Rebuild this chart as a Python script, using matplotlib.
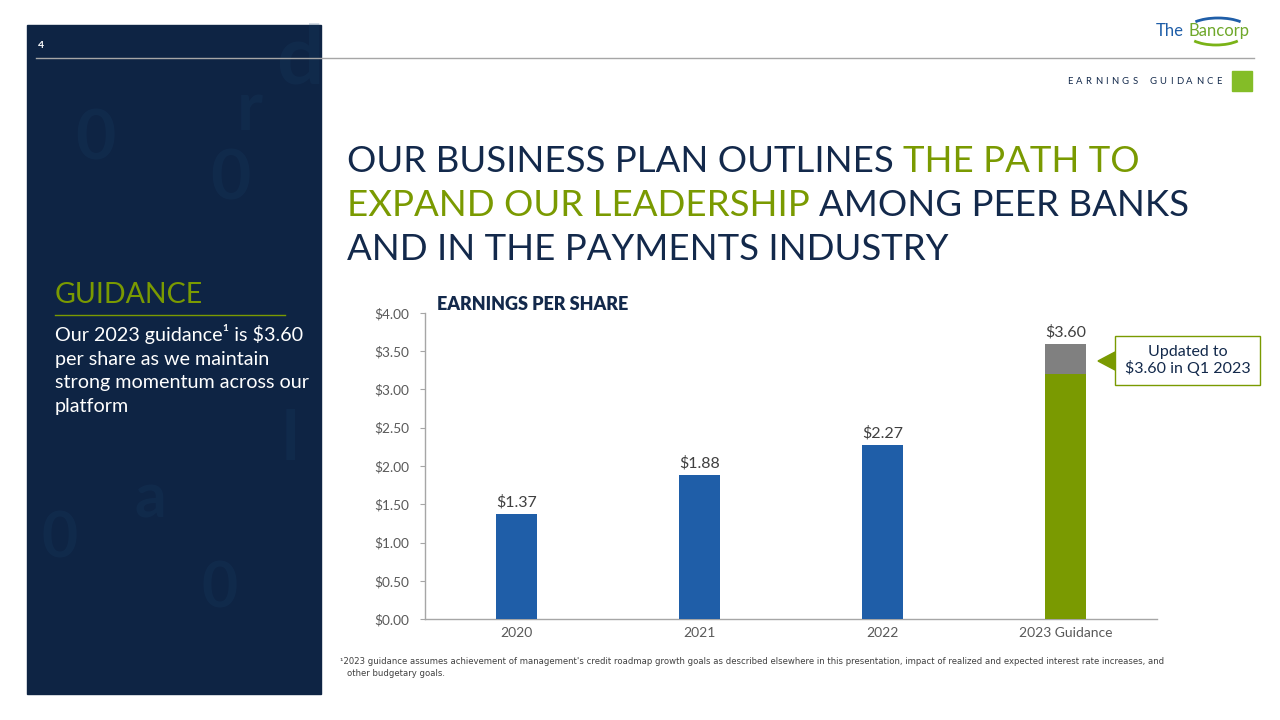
import numpy as np
import matplotlib.pyplot as plt
from matplotlib.patches import Rectangle, Polygon, Arc

# ---- data ----
categories = ["2020", "2021", "2022", "2023 Guidance"]
eps = [1.37, 1.88, 2.27, 3.60]
value_labels = ["$1.37", "$1.88", "$2.27", "$3.60"]
prior_guidance = 3.20          # green part of the 2023 bar
yticks = [0.0, 0.5, 1.0, 1.5, 2.0, 2.5, 3.0, 3.5, 4.0]

NAVY = "#13294b"
GREEN = "#7a9a01"
BLUE = "#1f5ea8"
GREY_BAR = "#808080"
TXT = "#595959"

plt.rcParams["font.family"] = ["Lato", "DejaVu Sans"]

W, H = 1280, 720
fig = plt.figure(figsize=(12.8, 7.2), dpi=100)
fig.patch.set_facecolor("white")
renderer = fig.canvas.get_renderer()

# background layer in pixel coords
bg = fig.add_axes([0, 0, 1, 1])
bg.set_xlim(0, W)
bg.set_ylim(H, 0)
bg.axis("off")

# left dark panel with faint blurry characters
panel = Rectangle((27, 25), 294, 669, color="#0e2444", zorder=0)
bg.add_patch(panel)
for (cx, cy, ch, s) in [(300, 60, "d", 60), (250, 110, "r", 50), (230, 180, "0", 50),
                         (95, 140, "0", 50), (60, 540, "0", 45), (150, 500, "a", 45),
                         (290, 440, "l", 50), (220, 590, "0", 45)]:
    tt = bg.text(cx, cy, ch, fontsize=s, color="#1d4770", alpha=0.18, ha="center",
                 va="center", fontweight="bold", zorder=1)
    tt.set_clip_path(panel)

# header line + page number
bg.plot([36, 1254], [58, 58], color="#a6a6a6", lw=1, zorder=2)
bg.text(38, 45, "4", color="white", fontsize=7.5, fontweight="bold", va="center")

# logo
bg.text(1156, 31, "The", color="#1f5ea8", fontsize=12, va="center")
bg.text(1188, 31, "Bancorp", color="#6fa82a", fontsize=12, va="center")
bg.add_patch(Arc((1218, 30), 62, 24, theta1=200, theta2=340, color="#1f5ea8", lw=2))
bg.add_patch(Arc((1216, 33), 58, 24, theta1=20, theta2=160, color="#7ab317", lw=2))


def spaced_text(x_right, y, s, total, **kw):
    # draw letter by letter with even tracking so the word ends at x_right
    widths = []
    for ch in s:
        t = bg.text(0, 0, ch if ch != " " else "n", **kw)
        widths.append(t.get_window_extent(renderer=renderer).width)
        t.remove()
    track = (total - sum(widths)) / (len(s) - 1)
    x = x_right - total
    for ch, w in zip(s, widths):
        if ch != " ":
            bg.text(x, y, ch, ha="left", va="center", **kw)
        x += w + track


spaced_text(1222, 81, "EARNINGS GUIDANCE", 155, color=NAVY, fontsize=6.8)
bg.add_patch(Rectangle((1232, 71), 20, 20, color="#84bd27"))

# title with coloured segments
title_lines = [
    [("OUR BUSINESS PLAN OUTLINES ", NAVY), ("THE PATH TO", GREEN)],
    [("EXPAND OUR LEADERSHIP ", GREEN), ("AMONG PEER BANKS", NAVY)],
    [("AND IN THE PAYMENTS INDUSTRY", NAVY)],
]
for i, segs in enumerate(title_lines):
    x = 347
    y = 172 + i * 44
    for txt, col in segs:
        tt = bg.text(x, y, txt, color=col, fontsize=26.4, fontweight="normal",
                     va="baseline", ha="left")
        bb = tt.get_window_extent(renderer=renderer)
        x += bb.width

# left panel text
bg.text(55, 303, "GUIDANCE", color=GREEN, fontsize=20.5, va="baseline")
bg.plot([55, 285], [315, 315], color=GREEN, lw=1)
body = ["Our 2023 guidance\u00b9 is $3.60", "per share as we maintain",
        "strong momentum across our", "platform"]
for i, line in enumerate(body):
    bg.text(55, 341 + i * 23.7, line, color="white", fontsize=14.2, va="baseline")

# footnote
fn_font = ["Liberation Sans Narrow", "DejaVu Sans"]
bg.text(340, 661, "\u00b92023 guidance assumes achievement of management's credit roadmap growth goals as described elsewhere in this presentation, impact of realized and expected interest rate increases, and",
        color="#404040", fontsize=6.1, va="center", family=fn_font)
bg.text(347, 673, "other budgetary goals.", color="#404040", fontsize=6.1, va="center",
        family=fn_font)

# ---- chart ----
x0, x1, ytop, ybot = 425, 1157, 313, 619
ax = fig.add_axes([x0 / W, 1 - ybot / H, (x1 - x0) / W, (ybot - ytop) / H])
ax.set_facecolor("none")
xpos = np.arange(len(categories))
bw = 0.22
colors = [BLUE, BLUE, BLUE, GREEN]
heights = eps[:3] + [prior_guidance]
ax.bar(xpos, heights, width=bw, color=colors, zorder=3)
ax.bar(xpos[3], eps[3] - prior_guidance, bottom=prior_guidance, width=bw,
       color=GREY_BAR, zorder=3)
for xp, v, lab in zip(xpos, eps, value_labels):
    ax.text(xp, v + 0.06, lab, ha="center", va="bottom", fontsize=11.5, color="#404040")

ax.set_xlim(-0.5, 3.5)
ax.set_ylim(0, 4)
ax.set_yticks(yticks)
ax.set_yticklabels([f"${v:.2f}" for v in yticks], fontsize=9.8, color=TXT)
ax.set_xticks(xpos)
ax.set_xticklabels(categories, fontsize=10, color=TXT)
ax.tick_params(axis="x", length=0, pad=6)
ax.tick_params(axis="y", length=3.6, color="#a6a6a6", pad=8)
for s in ["top", "right"]:
    ax.spines[s].set_visible(False)
for s in ["left", "bottom"]:
    ax.spines[s].set_color("#a6a6a6")
    ax.spines[s].set_linewidth(1)

bg.text(437, 305, "EARNINGS PER SHARE", color=NAVY, fontsize=13, fontweight="heavy",
        va="center")

# callout
bg.add_patch(Polygon([[1098, 361], [1115, 352], [1115, 370]], closed=True,
                     color=GREEN, zorder=4))
bg.add_patch(Rectangle((1115, 336), 145, 49, facecolor="white", edgecolor=GREEN,
                       lw=1, zorder=4))
bg.text(1187.5, 360.5, "Updated to\n$3.60 in Q1 2023", color=NAVY, fontsize=11.5,
        ha="center", va="center", linespacing=1.1, zorder=5)

fig.savefig("out.png", dpi=100)
